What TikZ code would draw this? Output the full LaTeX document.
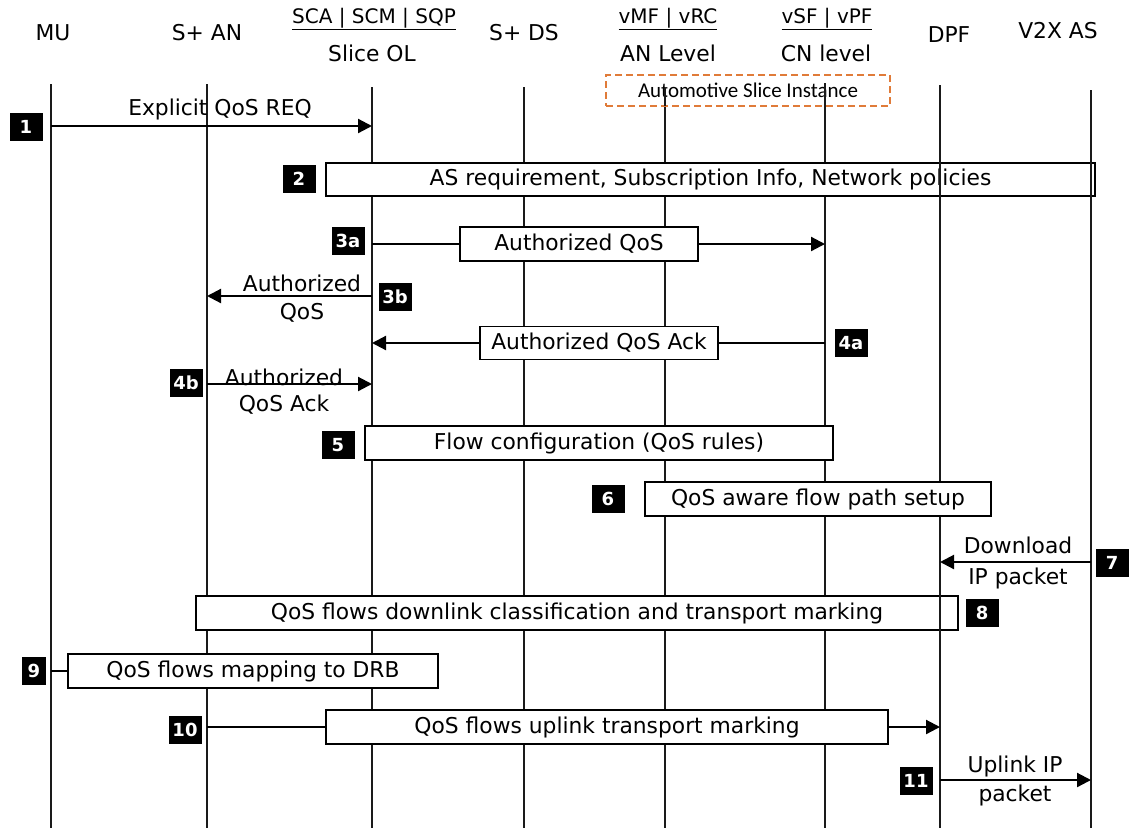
\documentclass[tikz,border=0pt]{standalone}
\usepackage{fontspec}
\setmainfont{DejaVu Sans}
\newfontfamily\calib{Carlito}
\usetikzlibrary{arrows.meta}
\definecolor{lifec}{HTML}{1A1A1A}
\definecolor{asiorange}{HTML}{E07B39}
\begin{document}
\begin{tikzpicture}[x=1pt,y=-1pt,
  every node/.style={font=\fontsize{21.8}{25}\selectfont, text=black},
  hdr/.style={font=\fontsize{21.8}{25}\selectfont},
  subhdr/.style={font=\fontsize{20}{23}\selectfont},
  life/.style={line width=1.5pt, draw=lifec},
  msg/.style={line width=2.2pt, draw=black, -{Triangle[length=14pt,width=14pt]}},
  plainln/.style={line width=2pt, draw=black},
  box/.style={draw=black, line width=1.3pt, fill=white, inner sep=0pt, minimum height=34pt},
  badge/.style={fill=black, text=white, font=\bfseries\fontsize{18}{20}\selectfont, minimum width=33pt, minimum height=28pt, inner sep=1pt},
  lbl/.style={font=\fontsize{21.8}{25}\selectfont, inner sep=1pt}
]
\useasboundingbox (0,0) rectangle (1131,828);

% headers
\node[hdr] (hMU) at (53,33) {MU};
\node[hdr] (hAN) at (207,33) {S+ AN};
\node[subhdr] (hOLs) at (374,19) {\underline{SCA | SCM | SQP}};
\node[hdr] (hOL) at (372,53) {Slice OL};
\node[hdr] (hDS) at (524,33) {S+ DS};
\node[subhdr] (hANLs) at (668,19) {\underline{vMF | vRC}};
\node[hdr] (hANL) at (668,53) {AN Level};
\node[subhdr] (hCNLs) at (827,19) {\underline{vSF | vPF}};
\node[hdr] (hCNL) at (826,53) {CN level};
\node[hdr] (hDPF) at (949,35) {DPF};
\node[hdr] (hV2X) at (1058,31) {V2X AS};

% lifeline end points
\coordinate (MUt) at (51,84);   \coordinate (MUb) at (51,828);
\coordinate (ANt) at (207,84);  \coordinate (ANb) at (207,828);
\coordinate (OLt) at (372,87);  \coordinate (OLb) at (372,828);
\coordinate (DSt) at (524,87);  \coordinate (DSb) at (524,828);
\coordinate (ALt) at (665,88);  \coordinate (ALb) at (665,828);
\coordinate (CLt) at (825,83);  \coordinate (CLb) at (825,828);
\coordinate (DPt) at (940,85);  \coordinate (DPb) at (940,828);
\coordinate (VXt) at (1091,90); \coordinate (VXb) at (1091,828);

\draw[life] (MUt) -- (MUb);
\draw[life] (ANt) -- (ANb);
\draw[life] (OLt) -- (OLb);
\draw[life] (DSt) -- (DSb);
\draw[life] (ALt) -- (ALb);
\draw[life] (CLt) -- (CLb);

% Automotive slice instance
\node[draw=asiorange, dash pattern=on 7pt off 4pt, line width=1.5pt, minimum width=284pt, minimum height=31pt, inner sep=0pt, font=\calib\fontsize{21}{23}\selectfont] (asi) at (748,90.5) {Automotive Slice Instance};
\draw[life] (ALt) -- (665,106);
\draw[life] (CLt) -- (825,106);

% boxes drawn below DPF / V2X lifelines
\node[box, minimum width=769pt, minimum height=33pt] (b2) at (710.5,179.5) {AS requirement, Subscription Info, Network policies};
\node[box, minimum width=762pt] (b8) at (577,613) {QoS flows downlink classification and transport marking};

\draw[life] (DPt) -- (DPb);
\draw[life] (VXt) -- (VXb);

% step 1
\node[badge] (n1) at (26,127) {1};
\coordinate (m1s) at (51,126); \coordinate (m1e) at (372,126);
\draw[msg] (m1s) -- (m1e);
\node[lbl] (l1) at (220,109) {Explicit QoS REQ};

% step 2
\node[badge] (n2) at (299,179) {2};

% step 3a
\node[badge] (n3a) at (348,241) {3a};
\node[box, minimum width=238pt] (b3a) at (579,244) {Authorized QoS};
\coordinate (m3as) at (372,244); \coordinate (m3ae) at (825,244);
\draw[plainln] (m3as) -- (b3a.west);
\draw[msg] (b3a.east) -- (m3ae);

% step 3b
\node[badge] (n3b) at (395,297) {3b};
\coordinate (m3bs) at (372,296); \coordinate (m3be) at (207,296);
\draw[msg] (m3bs) -- (m3be);
\node[lbl] (l3b1) at (302,283) {Authorized};
\node[lbl] (l3b2) at (302,313) {QoS};

% step 4a
\node[badge] (n4a) at (851,343) {4a};
\node[box, minimum width=238pt, minimum height=33pt] (b4a) at (599,343) {Authorized QoS Ack};
\coordinate (m4as) at (825,343); \coordinate (m4ae) at (372,343);
\draw[plainln] (m4as) -- (b4a.east);
\draw[msg] (b4a.west) -- (m4ae);

% step 4b
\node[badge] (n4b) at (186,383) {4b};
\coordinate (m4bs) at (207,384); \coordinate (m4be) at (372,384);
\draw[msg] (m4bs) -- (m4be);
\node[lbl] (l4b1) at (284,377) {Authorized};
\node[lbl] (l4b2) at (284,405) {QoS Ack};

% step 5
\node[badge] (n5) at (338,445) {5};
\node[box, minimum width=468pt] (b5) at (599,443) {Flow configuration (QoS rules)};

% step 6
\node[badge] (n6) at (608,499) {6};
\node[box, minimum width=346pt] (b6) at (818,499) {QoS aware flow path setup};

% step 7
\node[badge] (n7) at (1112,563) {7};
\coordinate (m7s) at (1091,562); \coordinate (m7e) at (940,562);
\draw[msg] (m7s) -- (m7e);
\node[lbl] (l7a) at (1018,545) {Download};
\node[lbl] (l7b) at (1018,578) {IP packet};

% step 8
\node[badge] (n8) at (982,613) {8};

% step 9
\node[badge, minimum width=24pt] (n9) at (34,671) {9};
\node[box, minimum width=370pt] (b9) at (253,671) {QoS flows mapping to DRB};
\coordinate (m9s) at (51,671);
\draw[plainln] (m9s) -- (b9.west);

% step 10
\node[badge] (n10) at (185,730) {10};
\node[box, minimum width=562pt] (b10) at (607,727) {QoS flows uplink transport marking};
\coordinate (m10s) at (207,727); \coordinate (m10e) at (940,727);
\draw[plainln] (m10s) -- (b10.west);
\draw[msg] (b10.east) -- (m10e);

% step 11
\node[badge] (n11) at (916,781) {11};
\coordinate (m11s) at (940,780); \coordinate (m11e) at (1091,780);
\draw[msg] (m11s) -- (m11e);
\node[lbl] (l11a) at (1015,766) {Uplink IP};
\node[lbl] (l11b) at (1015,795) {packet};

\end{tikzpicture}
\end{document}
